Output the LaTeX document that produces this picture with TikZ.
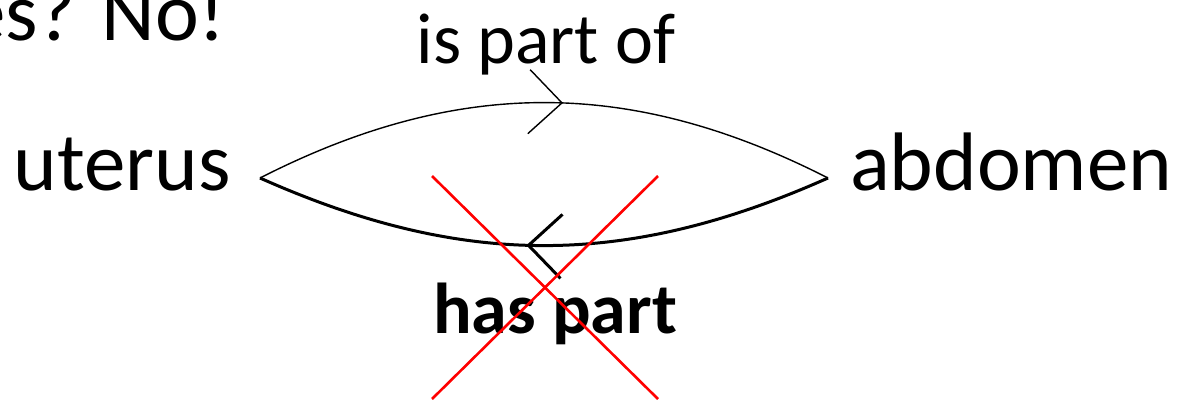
\documentclass[tikz,border=0pt]{standalone}
\usepackage{fontspec}
\setmainfont{Carlito}
\usepackage{xcolor}
\usetikzlibrary{positioning,arrows.meta,decorations.markings}
\definecolor{crossred}{RGB}{255,0,0}

\begin{document}
\begin{tikzpicture}[
  x=1pt, y=-1pt,
  every node/.style={inner sep=0pt},
  term/.style={font=\fontsize{83}{90}\selectfont},
  rel/.style={font=\fontsize{72}{80}\selectfont},
  barb/.style={-, postaction={decorate}, decoration={markings,
    mark=at position #1 with {\arrow{Straight Barb[length=33pt,width=64pt]}}}},
  thinarc/.style={barb=0.532, line width=1.4pt},
  thickarc/.style={barb=0.53, line width=3pt},
  cross/.style={draw=crossred, line width=2.6pt}
]
  \useasboundingbox (0,0) rectangle (1181,405);

  \node (uterus)  [term, inner xsep=29pt, anchor=base east] at (260,190) {uterus};
  \node (abdomen) [term, inner xsep=22pt, anchor=base west] at (828,190) {abdomen};
  \node (no)      [term, anchor=base west] at (-36,40) {es? No!};

  \draw[thinarc]  ([yshift=12pt]uterus.base east) to[bend left=27]
    ([yshift=12pt]abdomen.base west);
  \draw[thickarc] ([yshift=12pt]abdomen.base west) to[bend left=24]
    ([yshift=12pt]uterus.base east);

  \node (ispart)  [rel, anchor=base] at (546,63) {is part of};
  \node (haspart) [rel, anchor=base] at (555,333) {\bfseries has part};

  \draw[cross] (432,176) -- (658,399);
  \draw[cross] (658,176) -- (432,399);
\end{tikzpicture}
\end{document}
